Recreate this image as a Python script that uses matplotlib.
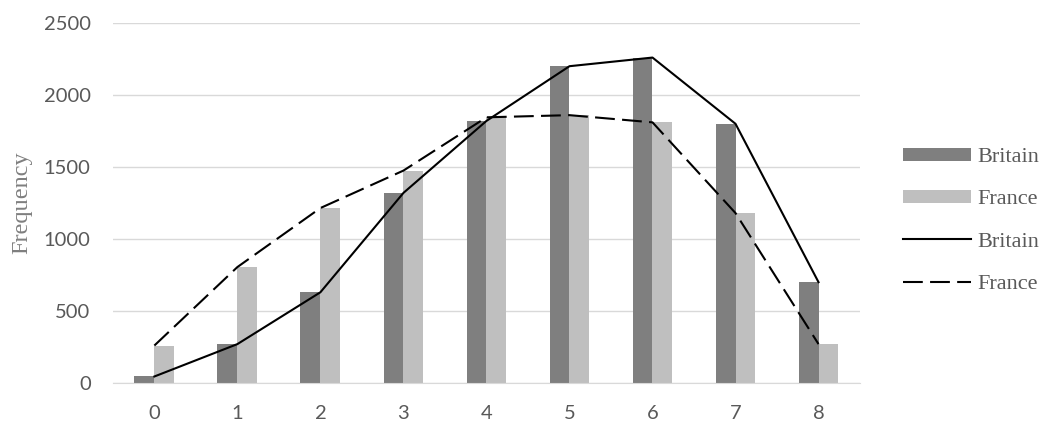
import numpy as np
import matplotlib.pyplot as plt

# number of events (x categories) and frequencies
categories = [0, 1, 2, 3, 4, 5, 6, 7, 8]
britain = [45, 270, 630, 1320, 1820, 2200, 2260, 1800, 700]
france = [260, 805, 1215, 1475, 1845, 1860, 1810, 1180, 270]
y_ticks = [0, 500, 1000, 1500, 2000, 2500]

x = np.arange(len(categories))
w = 0.24

fig = plt.figure(figsize=(10.45, 4.26), dpi=100)
ax = fig.add_axes([0.108, 0.101, 0.715, 0.845])

b1 = ax.bar(x - w / 2, britain, width=w, color='#7f7f7f', label='Britain', zorder=2)
b2 = ax.bar(x + w / 2, france, width=w, color='#bfbfbf', label='France', zorder=2)
l1, = ax.plot(x, britain, color='black', lw=1.5, label='Britain', zorder=3)
l2, = ax.plot(x, france, color='black', lw=1.5, dashes=(9.5, 3.5), label='France', zorder=3)

ax.set_xlim(-0.5, len(categories) - 0.5)
ax.set_ylim(0, 2500)
ax.set_yticks(y_ticks)
ax.set_xticks(x)
ax.set_xticklabels([str(c) for c in categories])
ax.grid(axis='y', color='#d9d9d9', lw=1, zorder=0)
ax.set_axisbelow(True)
for s in ['top', 'right', 'left']:
    ax.spines[s].set_visible(False)
ax.spines['bottom'].set_color('#d9d9d9')
ax.tick_params(length=0, labelsize=14.5, labelcolor='#595959')
ax.tick_params(axis='y', pad=16)
ax.tick_params(axis='x', pad=16)
for lab in ax.get_xticklabels() + ax.get_yticklabels():
    lab.set_fontfamily('Lato')

ax.set_ylabel('Frequency', fontfamily='Liberation Serif', fontsize=17.5, color='#7f7f7f', labelpad=8)

leg = fig.legend([b1, b2, l1, l2], ['Britain', 'France', 'Britain', 'France'],
                 loc='center left', bbox_to_anchor=(0.864, 0.482), frameon=False,
                 prop={'family': 'Liberation Serif', 'size': 16},
                 borderpad=0, borderaxespad=0,
                 handlelength=3.05, handleheight=0.55, labelspacing=1.02, handletextpad=0.3)
for t in leg.get_texts():
    t.set_color('#595959')

fig.savefig('out.png', dpi=100)
